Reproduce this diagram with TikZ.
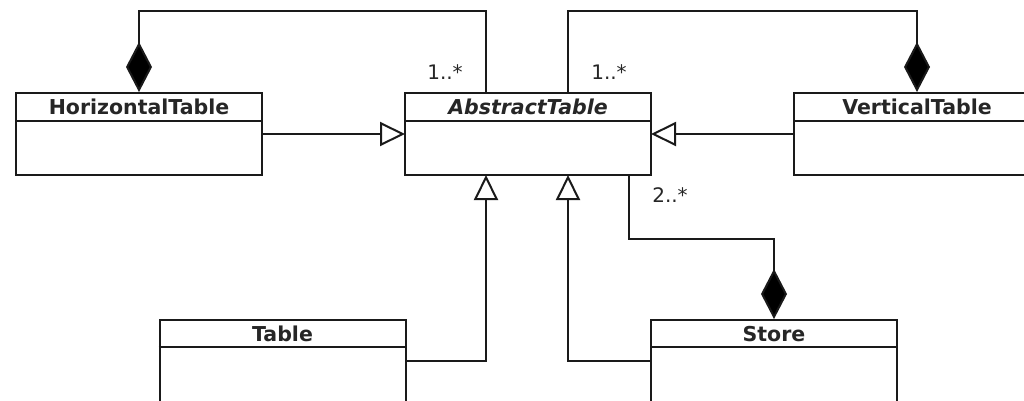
\documentclass[tikz,border=0pt]{standalone}
\usepackage{fontspec}
\setmainfont{DejaVu Sans}
\usetikzlibrary{arrows.meta,calc}
\definecolor{ink}{HTML}{1A1A1A}
\definecolor{txt}{HTML}{262626}
\tikzset{
  cls/.style={draw=ink, line width=2pt, fill=white, minimum width=246pt, minimum height=82pt, inner sep=0pt},
  ctitle/.style={text=txt, font=\bfseries\fontsize{20.5}{24}\selectfont, inner sep=0pt, anchor=base},
  mult/.style={text=txt, font=\fontsize{20}{24}\selectfont, inner sep=0pt},
  conn/.style={draw=ink, line width=2pt},
  gen/.style={conn, shorten >=-1pt, -{Triangle[open, length=25pt, width=24pt]}},
  comp/.style={conn, -{Diamond[length=50pt, width=26pt, fill=black]}},
  divider/.style={draw=ink, line width=2pt},
}
\begin{document}
\begin{tikzpicture}[x=1pt,y=-1pt]
\useasboundingbox (0,0) rectangle (1024,400);
\clip (0,0) rectangle (1024,400);
\fill[white] (0,0) rectangle (1024,400);
% classes
\node[cls] (ht) at (139,134) {};
\draw[divider] ([yshift=-29pt]ht.north west) -- ([yshift=-29pt]ht.north east);
\node[ctitle] (htt) at ([yshift=-22pt]ht.north) {HorizontalTable};
\node[cls] (at) at (528,134) {};
\draw[divider] ([yshift=-29pt]at.north west) -- ([yshift=-29pt]at.north east);
\node[ctitle] (att) at ([yshift=-22pt]at.north) {\itshape AbstractTable};
\node[cls] (vt) at (917,134) {};
\draw[divider] ([yshift=-29pt]vt.north west) -- ([yshift=-29pt]vt.north east);
\node[ctitle] (vtt) at ([yshift=-22pt]vt.north) {VerticalTable};
\node[cls] (tb) at (282.5,361) {};
\draw[divider] ([yshift=-28pt]tb.north west) -- ([yshift=-28pt]tb.north east);
\node[ctitle] (tbt) at ([yshift=-22pt]tb.north) {Table};
\node[cls] (st) at (774,361) {};
\draw[divider] ([yshift=-28pt]st.north west) -- ([yshift=-28pt]st.north east);
\node[ctitle] (stt) at ([yshift=-22pt]st.north) {Store};
% generalizations
\draw[gen] (ht.east) -- (at.west);
\draw[gen] (vt.west) -- (at.east);
\draw[gen] (tb.east) -| ([xshift=82pt]at.south west);
\draw[gen] (st.west) -| ([xshift=164pt]at.south west);
% compositions
\draw[comp] ([xshift=82pt]at.north west) -- ++(0,-81) -| (ht.north);
\draw[comp] ([xshift=164pt]at.north west) -- ++(0,-81) -| (vt.north);
\draw[comp] ([xshift=225pt]at.south west) -- ++(0,63) -| (st.north);
% multiplicities
\node[mult] (m1) at (445,72) {1..*};
\node[mult] (m2) at (609,72) {1..*};
\node[mult] (m3) at (670,195) {2..*};
\end{tikzpicture}
\end{document}
